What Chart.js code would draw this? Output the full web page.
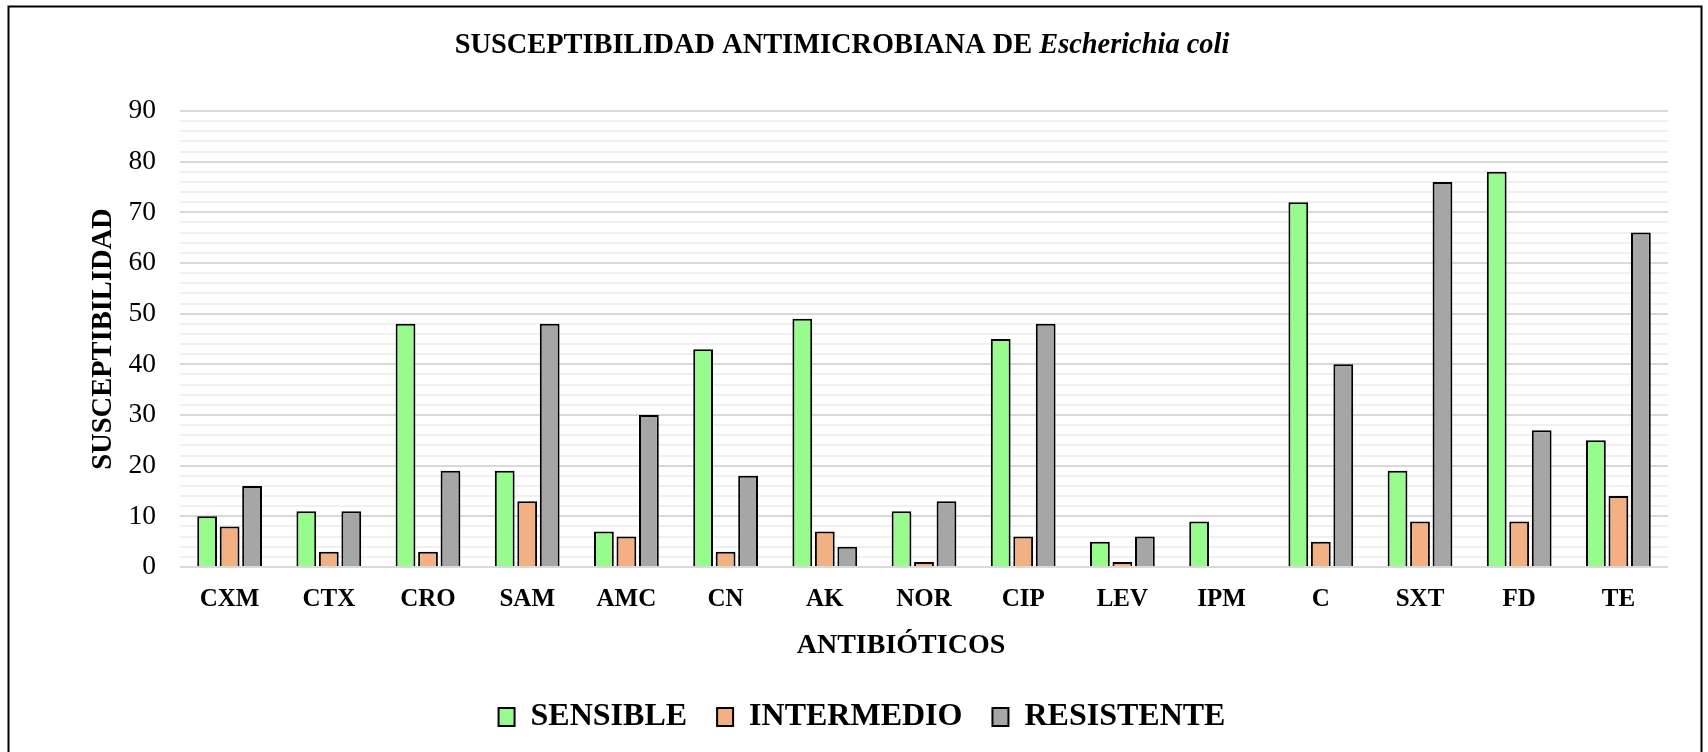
<!DOCTYPE html>
<html>
<head>
<meta charset="utf-8">
<script src="https://cdn.jsdelivr.net/npm/chart.js@4/dist/chart.umd.min.js"></script>
<style>
  html, body { margin: 0; padding: 0; background: #fff; }
  #wrap { width: 1708px; height: 752px; position: relative; }
</style>
</head>
<body>
<div id="wrap"><canvas id="chartSus"></canvas></div>
<script>
const antibioticos = ['CXM', 'CTX', 'CRO', 'SAM', 'AMC', 'CN', 'AK', 'NOR', 'CIP', 'LEV', 'IPM', 'C', 'SXT', 'FD', 'TE'];
const sensible    = [10, 11, 48, 19,  7, 43, 49, 11, 45, 5, 9,    72, 19, 78, 25];
const intermedio  = [ 8,  3,  3, 13,  6,  3,  7,  1,  6, 1, null,  5,  9,  9, 14];
const resistente  = [16, 11, 19, 48, 30, 18,  4, 13, 48, 6, null, 40, 76, 27, 66];

const FONT = "'Liberation Serif', 'Times New Roman', serif";

// marco, titulo (con parte en cursiva) y titulo del eje X
const framePlugin = {
    id: 'framePlugin',
    afterLayout(chart) {
        // la leyenda del original esta algo corrida a la derecha
        chart.legend.left += 23;
        chart.legend.right += 23;
    },
    afterDraw(chart) {
        const ctx = chart.ctx;
        ctx.save();
        ctx.strokeStyle = '#000';
        ctx.lineWidth = 2;
        ctx.strokeRect(8.5, 6.5, 1693, 800);

        const partA = 'SUSCEPTIBILIDAD ANTIMICROBIANA DE ';
        const partB = 'Escherichia coli';
        ctx.fillStyle = '#000';
        ctx.textBaseline = 'alphabetic';
        ctx.font = 'bold 28.4px ' + FONT;
        const wA = ctx.measureText(partA).width;
        ctx.font = 'italic bold 28.4px ' + FONT;
        const wB = ctx.measureText(partB).width;
        const x0 = 842 - (wA + wB) / 2;
        ctx.font = 'bold 28.4px ' + FONT;
        ctx.fillText(partA, x0, 53);
        ctx.font = 'italic bold 28.4px ' + FONT;
        ctx.fillText(partB, x0 + wA, 53);

        ctx.font = 'bold 28px ' + FONT;
        ctx.textAlign = 'center';
        ctx.fillText('ANTIBIÓTICOS', 901, 653);
        ctx.restore();
    }
};

const ctx = document.getElementById('chartSus').getContext('2d');
new Chart(ctx, {
    type: 'bar',
    data: {
        labels: antibioticos,
        datasets: [
            { label: 'SENSIBLE', data: sensible, backgroundColor: '#98FB8E', borderColor: '#000', borderWidth: 2 },
            { label: 'INTERMEDIO', data: intermedio, backgroundColor: '#F3B183', borderColor: '#000', borderWidth: 2 },
            { label: 'RESISTENTE', data: resistente, backgroundColor: '#A6A6A6', borderColor: '#000', borderWidth: 2 }
        ]
    },
    options: {
        responsive: true,
        maintainAspectRatio: false,
        animation: false,
        events: [],
        layout: { padding: { left: 10, right: 40, top: 111, bottom: 9 } },
        datasets: { bar: { categoryPercentage: 0.68, barPercentage: 0.88 } },
        plugins: {
            title: { display: false },
            tooltip: { enabled: false },
            legend: {
                position: 'bottom',
                labels: {
                    color: '#000',
                    font: { family: FONT, size: 32, weight: 'bold' },
                    boxWidth: 16,
                    boxHeight: 18,
                    padding: 30
                }
            }
        },
        scales: {
            x: {
                grid: { display: false },
                border: { display: false },
                ticks: {
                    color: '#000',
                    padding: 10,
                    font: { family: FONT, size: 25, weight: 'bold' }
                },
                // espacio para el titulo del eje, dibujado en el plugin
                afterFit: s => { s.height = 104; }
            },
            y: {
                min: 0,
                max: 90,
                border: { display: false },
                grid: {
                    drawTicks: false,
                    lineWidth: 2,
                    color: c => (c.tick && c.tick.value % 10 === 0) ? '#D9D9D9' : '#F0F0F0'
                },
                ticks: {
                    stepSize: 2,
                    autoSkip: false,
                    padding: 24,
                    color: '#000',
                    font: { family: FONT, size: 27.5 },
                    callback: v => (v % 10 === 0 ? v : '')
                },
                title: {
                    display: true,
                    text: 'SUSCEPTIBILIDAD',
                    color: '#000',
                    font: { family: FONT, size: 28.5, weight: 'bold' },
                    padding: { top: 77, bottom: 0 }
                },
                afterFit: s => { s.width = 170; }
            }
        }
    },
    plugins: [framePlugin]
});
</script>
</body>
</html>
